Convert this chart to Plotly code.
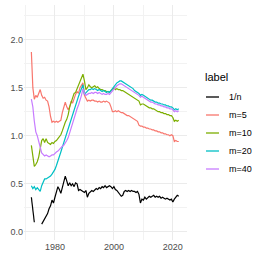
import plotly.graph_objects as go

years = [1972.0, 1972.5, 1973.0, 1973.5, 1974.0, 1974.5, 1975.0, 1975.5, 1976.0, 1976.5,
         1977.0, 1977.5, 1978.0, 1978.5, 1979.0, 1979.5, 1980.0, 1980.5, 1981.0, 1981.5,
         1982.0, 1982.5, 1983.0, 1983.5, 1984.0, 1984.5, 1985.0, 1985.5, 1986.0, 1986.5,
         1987.0, 1987.5, 1988.0, 1988.5, 1989.0, 1989.5, 1990.0, 1990.5, 1991.0, 1991.5,
         1992.0, 1992.5, 1993.0, 1993.5, 1994.0, 1994.5, 1995.0, 1995.5, 1996.0, 1996.5,
         1997.0, 1997.5, 1998.0, 1998.5, 1999.0, 1999.5, 2000.0, 2000.5, 2001.0, 2001.5,
         2002.0, 2002.5, 2003.0, 2003.5, 2004.0, 2004.5, 2005.0, 2005.5, 2006.0, 2006.5,
         2007.0, 2007.5, 2008.0, 2008.5, 2009.0, 2009.5, 2010.0, 2010.5, 2011.0, 2011.5,
         2012.0, 2012.5, 2013.0, 2013.5, 2014.0, 2014.5, 2015.0, 2015.5, 2016.0, 2016.5,
         2017.0, 2017.5, 2018.0, 2018.5, 2019.0, 2019.5, 2020.0, 2020.5, 2021.0, 2021.5,
         2022.0]

inv_n = [0.36, 0.22, 0.10, None, None, None, None, 0.08, 0.11, 0.14,
         0.17, 0.19, 0.24, 0.27, 0.33, 0.30, 0.36, 0.41, 0.47, 0.44,
         0.40, 0.46, 0.52, 0.58, 0.53, 0.48, 0.51, 0.48, 0.50, 0.47,
         0.51, 0.50, 0.43, 0.44, 0.43, 0.42, 0.41, 0.43, 0.36, 0.40,
         0.42, 0.43, 0.42, 0.44, 0.45, 0.44, 0.46, 0.45, 0.47, 0.46,
         0.48, 0.46, 0.47, 0.48, 0.47, 0.45, 0.47, 0.44, 0.43, 0.41,
         0.40, 0.37, 0.38, 0.42, 0.43, 0.42, 0.43, 0.42, 0.43, 0.42,
         0.42, 0.41, 0.42, 0.39, 0.30, 0.34, 0.33, 0.36, 0.34, 0.36,
         0.37, 0.36, 0.37, 0.38, 0.36, 0.37, 0.36, 0.37, 0.35, 0.36,
         0.35, 0.34, 0.35, 0.34, 0.33, 0.34, 0.31, 0.34, 0.36, 0.38,
         0.37]

m5 = [1.87, 1.50, 1.38, 1.42, 1.40, 1.45, 1.48, 1.42, 1.39, 1.40,
      1.37, 1.36, 1.30, 1.20, 1.14, 1.15, 1.14, 1.15, 1.14, 1.15,
      1.16, 1.24, 1.30, 1.35, 1.30, 1.27, 1.30, 1.36, 1.34, 1.40,
      1.43, 1.46, 1.44, 1.50, 1.52, 1.55, 1.42, 1.38, 1.36, 1.37,
      1.36, 1.37, 1.37, 1.36, 1.36, 1.35, 1.36, 1.35, 1.35, 1.36,
      1.35, 1.36, 1.35, 1.34, 1.30, 1.25, 1.25, 1.26, 1.25, 1.26,
      1.25, 1.24, 1.24, 1.23, 1.22, 1.21, 1.21, 1.20, 1.19, 1.18,
      1.17, 1.16, 1.15, 1.11, 1.10, 1.10, 1.09, 1.09, 1.08, 1.08,
      1.07, 1.07, 1.06, 1.06, 1.05, 1.05, 1.04, 1.04, 1.03, 1.03,
      1.02, 1.02, 1.01, 1.01, 1.00, 1.01, 1.00, 0.94, 0.95, 0.94,
      0.94]

m10 = [0.90, 0.78, 0.68, 0.70, 0.73, 0.78, 0.86, 0.95, 0.97, 0.93,
       0.97, 0.93, 0.92, 0.91, 0.93, 0.92, 0.94, 0.95, 0.97, 0.99,
       1.01, 1.05, 1.10, 1.14, 1.17, 1.22, 1.30, 1.34, 1.40, 1.44,
       1.45, 1.49, 1.52, 1.56, 1.60, 1.64, 1.57, 1.48, 1.50, 1.53,
       1.51, 1.50, 1.51, 1.52, 1.50, 1.51, 1.49, 1.48, 1.48, 1.47,
       1.47, 1.46, 1.46, 1.45, 1.47, 1.49, 1.50, 1.48, 1.49, 1.48,
       1.48, 1.47, 1.47, 1.46, 1.45, 1.44, 1.43, 1.42, 1.41, 1.40,
       1.39, 1.38, 1.37, 1.36, 1.32, 1.33, 1.33, 1.32, 1.31, 1.30,
       1.29, 1.29, 1.28, 1.28, 1.27, 1.26, 1.25, 1.25, 1.24, 1.24,
       1.23, 1.23, 1.22, 1.22, 1.21, 1.21, 1.19, 1.15, 1.16, 1.15,
       1.16]

m20 = [0.48, 0.45, 0.47, 0.44, 0.46, 0.44, 0.42, 0.48, 0.52, 0.55,
       0.55, 0.56, 0.57, 0.58, 0.60, 0.62, 0.65, 0.69, 0.73, 0.78,
       0.83, 0.88, 0.93, 0.98, 1.02, 1.07, 1.12, 1.17, 1.22, 1.28,
       1.32, 1.37, 1.41, 1.45, 1.50, 1.53, 1.43, 1.45, 1.47, 1.48,
       1.48, 1.49, 1.48, 1.49, 1.48, 1.47, 1.48, 1.47, 1.46, 1.47,
       1.46, 1.45, 1.46, 1.45, 1.47, 1.49, 1.52, 1.54, 1.55, 1.56,
       1.57, 1.57, 1.56, 1.55, 1.54, 1.53, 1.52, 1.51, 1.50, 1.49,
       1.47, 1.46, 1.45, 1.44, 1.42, 1.43, 1.42, 1.41, 1.40, 1.39,
       1.38, 1.37, 1.37, 1.36, 1.35, 1.35, 1.34, 1.34, 1.33, 1.33,
       1.32, 1.32, 1.31, 1.31, 1.30, 1.30, 1.29, 1.27, 1.28, 1.27,
       1.28]

m40 = [1.38, 1.30, 1.15, 1.04, 1.00, 0.95, 0.88, 0.82, 0.80, 0.79,
       0.80, 0.79, 0.78, 0.79, 0.80, 0.80, 0.82, 0.83, 0.84, 0.86,
       0.87, 0.89, 0.90, 0.92, 0.95, 0.98, 1.03, 1.08, 1.14, 1.20,
       1.24, 1.28, 1.32, 1.36, 1.42, 1.49, 1.44, 1.42, 1.43, 1.44,
       1.44, 1.45, 1.44, 1.45, 1.45, 1.44, 1.45, 1.44, 1.43, 1.44,
       1.43, 1.43, 1.44, 1.43, 1.45, 1.47, 1.49, 1.51, 1.52, 1.53,
       1.54, 1.54, 1.53, 1.52, 1.51, 1.50, 1.49, 1.48, 1.47, 1.46,
       1.45, 1.44, 1.43, 1.42, 1.40, 1.41, 1.40, 1.39, 1.38, 1.37,
       1.36, 1.35, 1.35, 1.34, 1.33, 1.33, 1.32, 1.32, 1.31, 1.31,
       1.30, 1.30, 1.29, 1.29, 1.28, 1.28, 1.27, 1.25, 1.26, 1.25,
       1.26]

series_names = ["1/n", "m=5", "m=10", "m=20", "m=40"]
series_values = [inv_n, m5, m10, m20, m40]
series_colors = ["#000000", "#F8766D", "#7CAE00", "#00BFC4", "#C77CFF"]
legend_title = "label"

x_ticks = [1980, 2000, 2020]
x_minor = [1970, 1990, 2010]
y_ticks = [0.0, 0.5, 1.0, 1.5, 2.0]
y_tick_labels = ["0.0", "0.5", "1.0", "1.5", "2.0"]
y_minor = [0.25, 0.75, 1.25, 1.75, 2.25]

W, H = 263, 263
ML, MR, MT, MB = 24, 76, 5, 23
PW, PH = W - ML - MR, H - MT - MB


def px_x(px):
    return (px - ML) / PW


def px_y(py):
    return (H - MB - py) / PH


fig = go.Figure()
for name, vals, col in zip(series_names, series_values, series_colors):
    fig.add_trace(go.Scatter(x=years, y=vals, mode="lines", name=name,
                             line=dict(color=col, width=1.2), connectgaps=False,
                             showlegend=False))

# Legend drawn by hand so the key length matches the ggplot-style legend
shapes = []
annotations = [dict(text=legend_title, xref="paper", yref="paper", x=px_x(203), y=px_y(77),
                    xanchor="left", yanchor="middle", showarrow=False,
                    font=dict(size=11, color="#000000"))]
for i, (name, col) in enumerate(zip(series_names, series_colors)):
    cy = 97 + 18 * i
    shapes.append(dict(type="line", xref="paper", yref="paper",
                       x0=px_x(206), x1=px_x(219), y0=px_y(cy), y1=px_y(cy),
                       line=dict(color=col, width=1.3)))
    annotations.append(dict(text=name, xref="paper", yref="paper", x=px_x(227), y=px_y(cy),
                            xanchor="left", yanchor="middle", showarrow=False,
                            font=dict(size=9, color="#000000")))

font_family = "Liberation Sans, Arial, sans-serif"
fig.update_layout(
    width=W, height=H,
    margin=dict(l=ML, r=MR, t=MT, b=MB, autoexpand=False),
    plot_bgcolor="white", paper_bgcolor="white",
    font=dict(family=font_family, size=9, color="#4D4D4D"),
    showlegend=False,
    shapes=shapes, annotations=annotations,
    xaxis=dict(range=[1969.5, 2024.8], tickvals=x_ticks, ticks="", showline=False,
               zeroline=False, showgrid=True, gridcolor="#EBEBEB", gridwidth=1,
               tickfont=dict(size=9, color="#4D4D4D"),
               minor=dict(tickvals=x_minor, showgrid=True, gridcolor="#F2F2F2", gridwidth=0.6, ticks="")),
    yaxis=dict(range=[-0.085, 2.36], tickvals=y_ticks, ticktext=y_tick_labels, ticks="",
               showline=False, zeroline=False, showgrid=True, gridcolor="#EBEBEB", gridwidth=1,
               tickfont=dict(size=9, color="#4D4D4D"),
               minor=dict(tickvals=y_minor, showgrid=True,
                          gridcolor="#F2F2F2", gridwidth=0.6, ticks="")),
)

fig.write_html("out.html", config={"displayModeBar": False},
               post_script="document.body.style.margin='0';")
